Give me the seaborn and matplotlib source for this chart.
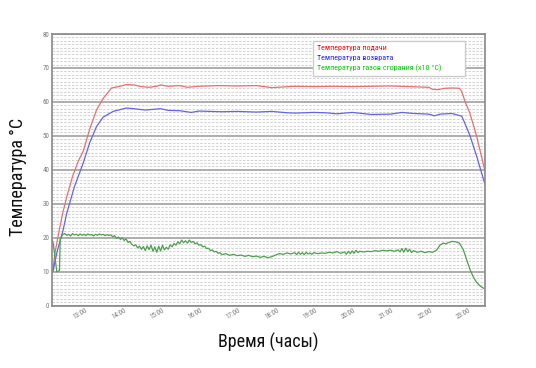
import numpy as np
import pandas as pd
import matplotlib
matplotlib.use('Agg')
import matplotlib.pyplot as plt
from matplotlib import font_manager
import matplotlib.transforms as mtrans
import seaborn as sns

# time in hours (decimal), values in degrees C
supply_t = [12.19, 12.25, 12.35, 12.45, 12.55, 12.7, 12.85, 12.98, 13.15, 13.33, 13.5, 13.72, 13.9,
            14.11, 14.3, 14.5, 14.7, 14.9, 15.0, 15.2, 15.5, 15.7, 16.0, 16.5, 17.0, 17.5, 17.9, 18.2,
            18.5, 19.0, 19.5, 20.0, 20.5, 21.0, 21.5, 22.0, 22.1, 22.25, 22.4, 22.6, 22.8, 22.86, 22.95,
            23.07, 23.25, 23.47]
supply_v = [10.5, 16, 22, 27.5, 32, 38, 42.5, 45.5, 52, 57.7, 61, 64.1, 64.5,
            65.1, 65, 64.5, 64.3, 64.6, 65, 64.6, 64.8, 64.3, 64.6, 64.8, 64.7, 64.8, 64.2, 64.4,
            64.6, 64.5, 64.6, 64.5, 64.6, 64.7, 64.5, 64.3, 63.7, 63.6, 64.0, 64.1, 64.0, 63.1, 60,
            56.8, 49.9, 39.5]

return_t = [12.19, 12.3, 12.45, 12.55, 12.75, 12.98, 13.15, 13.33, 13.5, 13.76, 14.11, 14.3, 14.6,
            14.8, 15.0, 15.2, 15.5, 15.8, 16.0, 16.3, 16.6, 17.0, 17.5, 17.9, 18.3, 18.5, 19.0, 19.3,
            19.6, 20.0, 20.5, 21.0, 21.3, 21.6, 22.0, 22.15, 22.3, 22.6, 22.86, 22.95, 23.08, 23.25, 23.47]
return_v = [10, 16, 22, 27.2, 35, 42, 48, 52.8, 55.5, 57.2, 58.2, 58, 57.6,
            57.8, 58, 57.5, 57.4, 56.9, 57.3, 57.2, 57.1, 57.2, 57.0, 57.2, 56.8, 56.7, 56.9, 56.8,
            56.5, 56.9, 56.3, 56.4, 56.9, 56.6, 56.4, 55.9, 56.4, 56.6, 55.8, 53.5, 49.9, 44.0, 35.6]

flue_t = [12.17, 12.2, 12.29, 12.36, 12.38, 12.45, 12.5, 12.55, 12.6, 12.65, 12.7, 12.75, 12.8, 12.85,
          12.9, 12.95, 13.0, 13.05, 13.1, 13.15, 13.2, 13.25, 13.3, 13.35, 13.4, 13.45, 13.5, 13.55,
          13.6, 13.65, 13.7, 13.75, 13.8, 13.85, 13.9, 13.95, 14.0, 14.05, 14.1, 14.15, 14.2, 14.25,
          14.3, 14.35, 14.4, 14.45, 14.5, 14.55, 14.6, 14.65, 14.7, 14.75, 14.8, 14.85, 14.9, 14.95,
          15.0, 15.05, 15.1, 15.15, 15.2, 15.25, 15.3, 15.35, 15.4, 15.45, 15.5, 15.55, 15.6, 15.65,
          15.7, 15.75, 15.8, 15.85, 15.9, 15.95, 16.0, 16.05, 16.1, 16.15, 16.2, 16.25, 16.3, 16.35,
          16.4, 16.45, 16.5, 16.55, 16.6, 16.7, 16.8, 16.9, 17.0, 17.1, 17.2, 17.3, 17.4, 17.5, 17.6,
          17.7, 17.8, 17.9, 18.0, 18.1, 18.2, 18.3, 18.4, 18.5, 18.55, 18.6, 18.65, 18.7, 18.75, 18.8,
          18.85, 18.9, 18.95, 19.0, 19.1, 19.2, 19.3, 19.4, 19.5, 19.6, 19.7, 19.8, 19.85, 19.9, 19.95,
          20.0, 20.05, 20.1, 20.15, 20.2, 20.3, 20.4, 20.5, 20.6, 20.7, 20.8, 20.9, 21.0, 21.1, 21.2,
          21.25, 21.3, 21.35, 21.4, 21.45, 21.5, 21.55, 21.6, 21.7, 21.8, 21.9, 22.0, 22.1, 22.2, 22.3,
          22.38, 22.45, 22.5, 22.6, 22.7, 22.8, 22.9, 22.99, 23.08, 23.16, 23.25, 23.35, 23.43]
flue_v = [19.4, 18.2, 10.0, 10.3, 19.6, 21.0, 21.2, 20.7, 21.0, 20.5, 21.2, 20.8, 21.0,
          20.6, 21.1, 20.7, 21.0, 20.6, 21.1, 20.8, 20.9, 20.5, 21.0, 20.7, 21.1, 20.8, 21.0,
          20.6, 20.9, 20.7, 20.8, 20.3, 20.6, 19.8, 20.2, 19.5, 19.9, 19.2, 19.6, 18.6, 18.9,
          18.0, 17.6, 17.9, 17.0, 17.5, 16.6, 17.4, 16.2, 17.6, 16.5, 17.8, 16.0, 17.3, 15.7,
          17.5, 16.1, 17.8, 16.4, 17.2, 16.6, 17.9, 17.3, 18.3, 17.8, 18.8, 18.2, 19.3, 18.5,
          19.1, 18.4, 19.3, 18.6, 18.9, 18.2, 18.5, 17.8, 18.0, 17.3, 17.5, 16.8, 16.9, 16.2,
          16.4, 15.8, 16.0, 15.4, 15.6, 15.0, 15.3, 14.8, 15.1, 14.7, 14.9, 14.5, 14.8, 14.4, 14.6,
          14.2, 14.5, 14.1, 14.4, 14.9, 15.3, 15.1, 15.5, 15.2, 15.6, 15.0, 15.7, 15.1, 15.6, 15.0,
          15.7, 15.2, 15.5, 15.1, 15.6, 15.3, 15.5, 15.4, 15.7, 15.5, 15.9, 15.4, 15.8, 15.1, 16.0,
          15.3, 16.1, 15.4, 16.3, 15.6, 16.0, 15.8, 16.0, 15.9, 16.2, 16.0, 16.3, 16.1, 16.3, 16.0,
          16.4, 15.8, 16.8, 15.7, 16.9, 15.9, 16.6, 15.6, 16.2, 15.7, 16.0, 15.6, 15.9, 15.7, 16.3,
          17.9, 18.4, 18.2, 18.5, 18.9, 18.8, 18.4, 16.5, 13.5, 10.5, 8.5, 6.8, 5.7, 5.1]

hours = list(range(13, 24))
hour_labels = [f'{h}:00' for h in hours]
legend_labels = ['Температура подачи', 'Температура возврата', 'Температура газов сгорания (х10 °С)']
legend_colors = ['#ff0000', '#2222ff', '#00cc00']
line_colors = ['#e87070', '#6464e8', '#4f9f4f']

sns.set_style('white')

# pick a condensed face if one is installed
names = {f.name for f in font_manager.fontManager.ttflist}
narrow = None
for cand in ['Liberation Sans Narrow', 'DejaVu Sans Condensed', 'Roboto Condensed', 'Open Sans Condensed']:
    if cand in names:
        narrow = cand
        break
fam = ([narrow] if narrow else []) + ['DejaVu Sans']
plt.rcParams['font.family'] = fam
label_size = 13 if narrow else 11
leg_size = 5.8 if narrow else 4.8

fig = plt.figure(figsize=(5.36, 3.68), dpi=100)
ax = fig.add_axes([0.097, 0.1696, 0.808, 0.738])

series = [(supply_t, supply_v), (return_t, return_v), (flue_t, flue_v)]
for (t, v), lab, col in zip(series, legend_labels, line_colors):
    df = pd.DataFrame({'t': t, 'v': v})
    sns.lineplot(data=df, x='t', y='v', ax=ax, color=col, linewidth=0.9, label=lab, estimator=None)

ax.set_xlim(12.165, 23.47)
ax.set_ylim(0, 80)
ax.set_yticks(range(0, 81, 10))
ax.set_yticks(range(0, 81, 1), minor=True)
ax.set_xticks(hours)
ax.set_xticklabels(hour_labels, rotation=30, ha='right')
ax.grid(which='major', axis='y', color='#a0a0a0', linewidth=1.2)
ax.grid(which='minor', axis='y', color='#d4d4d4', linewidth=0.8, linestyle=(0, (2.2, 1.3)))
ax.set_axisbelow(True)
ax.tick_params(axis='both', which='major', labelsize=5, labelcolor='#777777', length=0, pad=2)
ax.tick_params(axis='x', which='major', pad=1)
ax.tick_params(axis='y', which='minor', length=0)
shift = mtrans.ScaledTranslation(5 / 100, 0, fig.dpi_scale_trans)
for lbl in ax.get_xticklabels():
    lbl.set_transform(lbl.get_transform() + shift)
for s in ax.spines.values():
    s.set_color('#888888')
    s.set_linewidth(1.2)

ax.set_xlabel('Время (часы)', fontsize=label_size, color='#111111')
ax.set_ylabel('Температура °С', fontsize=label_size, color='#111111')
ax.xaxis.set_label_coords(0.5, -0.1)
ax.yaxis.set_label_coords(-0.058, 0.475)

leg = ax.legend(loc='upper left', bbox_to_anchor=(0.603, 0.5, 0.351, 0.475), mode='expand',
                borderaxespad=0, fontsize=leg_size, handlelength=0, handletextpad=0, frameon=True,
                fancybox=False, edgecolor='#cccccc', framealpha=1, borderpad=0.45, labelspacing=0.4)
for txt, c in zip(leg.get_texts(), legend_colors):
    txt.set_color(c)
for h in leg.legend_handles:
    h.set_visible(False)

fig.savefig('out.png', dpi=100)
